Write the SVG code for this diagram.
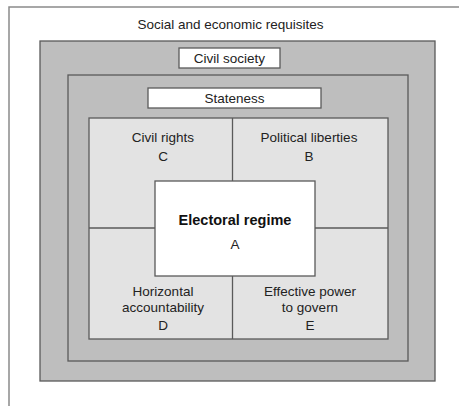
<svg xmlns="http://www.w3.org/2000/svg" width="459" height="406" viewBox="0 0 459 406">
<style>
.frame{fill:none;stroke:#8a8a8a;stroke-width:1.5}
.gray{fill:#bebebe;stroke:#5a5a5a;stroke-width:1.3}
.light{fill:#e3e3e3;stroke:#5a5a5a;stroke-width:1.3}
.white{fill:#ffffff;stroke:#5a5a5a;stroke-width:1.3}
.div{stroke:#5a5a5a;stroke-width:1.3;fill:none}
text{font-family:"Liberation Sans",Arial,sans-serif;font-size:13.5px;fill:#222;text-anchor:middle}
.b{font-weight:bold;font-size:14.5px;fill:#111}
</style>
<g id="frame">
<path class="frame" d="M9,406 V7 H459"/>
<text x="230.5" y="29">Social and economic requisites</text>
</g>
<g id="civil-society-area">
<rect class="gray" x="40" y="41" width="395" height="340"/>
</g>
<g id="civil-society-label">
<rect class="white" x="179" y="48" width="101" height="20"/>
<text x="229.5" y="63">Civil society</text>
</g>
<g id="stateness-area">
<rect class="gray" x="68" y="75" width="340" height="286"/>
</g>
<g id="stateness-label">
<rect class="white" x="148" y="88" width="173" height="20"/>
<text x="234.5" y="103">Stateness</text>
</g>
<g id="partial-regimes">
<rect class="light" x="89" y="118" width="299" height="221"/>
</g>
<g id="connectors">
<line class="div" x1="232.5" y1="118" x2="232.5" y2="181"/>
<line class="div" x1="232.5" y1="276" x2="232.5" y2="339"/>
<line class="div" x1="89" y1="228" x2="155" y2="228"/>
<line class="div" x1="315" y1="228" x2="388" y2="228"/>
</g>
<g id="civil-rights">
<text x="163" y="142">Civil rights</text>
<text x="163" y="161">C</text>
</g>
<g id="political-liberties">
<text x="309" y="142">Political liberties</text>
<text x="309" y="161">B</text>
</g>
<g id="horizontal-accountability">
<text x="163" y="296">Horizontal</text>
<text x="163" y="312">accountability</text>
<text x="163" y="330">D</text>
</g>
<g id="effective-power">
<text x="310" y="296">Effective power</text>
<text x="310" y="312">to govern</text>
<text x="310" y="330">E</text>
</g>
<g id="electoral-regime">
<rect class="white" x="155" y="181" width="160" height="95"/>
<text class="b" x="235" y="225">Electoral regime</text>
<text x="235" y="249">A</text>
</g>
</svg>
